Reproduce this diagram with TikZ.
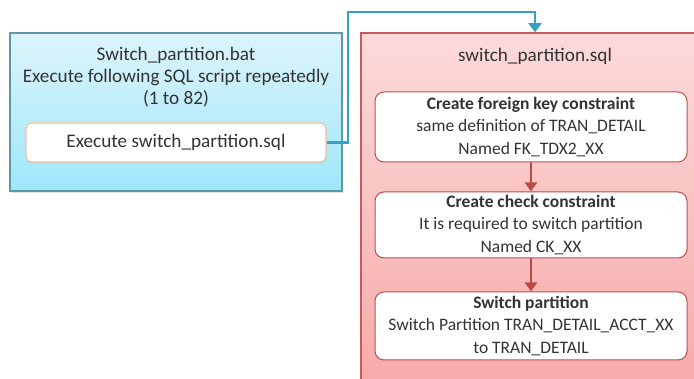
\documentclass[tikz,border=0pt]{standalone}
\usepackage{fontspec}
\setmainfont{Carlito}
\usetikzlibrary{shadows,arrows.meta}
\definecolor{txtgray}{HTML}{333333}
\definecolor{batedge}{HTML}{5E98A6}
\definecolor{battop}{HTML}{DDF4FB}
\definecolor{batbot}{HTML}{9EE7FA}
\definecolor{sqledge}{HTML}{C9595A}
\definecolor{sqltop}{HTML}{FCDADA}
\definecolor{sqlbot}{HTML}{F7A9A9}
\definecolor{stepedge}{HTML}{B9504F}
\definecolor{execedge}{HTML}{F0C49B}
\definecolor{linkblue}{HTML}{34A2C1}
\definecolor{flowred}{HTML}{BC4B47}
\tikzset{
  txt/.style={font=\fontsize{19.2}{22}\selectfont, text=txtgray, align=center, inner sep=0pt},
  bluebox/.style={draw=batedge, line width=1.6pt, top color=battop, bottom color=batbot,
    minimum width=332pt, minimum height=158pt, inner sep=0pt,
    drop shadow={shadow xshift=1pt, shadow yshift=-2pt, opacity=0.25}},
  execbox/.style={txt, draw=execedge, line width=1.2pt, fill=white, rounded corners=6pt,
    minimum width=300pt, minimum height=39pt,
    drop shadow={shadow xshift=1pt, shadow yshift=-1.5pt, opacity=0.15}},
  redbox/.style={draw=sqledge, line width=1.5pt, top color=sqltop, bottom color=sqlbot,
    minimum width=339pt, minimum height=357pt, inner sep=0pt},
  stepbox/.style={font=\fontsize{17.5}{22.5}\selectfont, text=txtgray, align=center, inner sep=0pt,
    draw=stepedge, line width=1pt, fill=white, rounded corners=9pt, minimum width=312pt},
  flow/.style={draw=flowred, line width=2.4pt, -{Triangle[width=12pt,length=9pt]}},
  link/.style={draw=linkblue, line width=2.8pt, -{Triangle[width=13pt,length=9pt]}}
}
\begin{document}
\begin{tikzpicture}[x=1pt,y=-1pt]
\useasboundingbox (0,0) rectangle (694,379);
\clip (0,0) rectangle (694,379);
% batch file container
\node[bluebox] (bat) at (176,112) {};
\node[txt] (battitle) at (176,77) {Switch\_partition.bat\\Execute following SQL script repeatedly\\(1 to 82)};
\node[execbox] (exec) at (176,142.5) {Execute switch\_partition.sql};
% SQL script container
\node[redbox] (sql) at (530.5,211.5) {};
\node[txt] (sqltitle) at (535,56) {switch\_partition.sql};
\node[stepbox, minimum height=70pt] (fk) at (531,127)
  {\textbf{Create foreign key constraint}\\same definition of TRAN\_DETAIL\\Named FK\_TDX2\_XX};
\node[stepbox, minimum height=66pt] (ck) at (531,225)
  {\textbf{Create check constraint}\\It is required to switch partition\\Named CK\_XX};
\node[stepbox, minimum height=68pt] (sw) at (531,326)
  {\textbf{Switch partition}\\Switch Partition TRAN\_DETAIL\_ACCT\_XX\\to TRAN\_DETAIL};
% steps inside the script
\draw[flow] (fk) -- (ck);
\draw[flow] (ck) -- (sw);
% call from the batch file into the script
\coordinate (bend) at (348,12);
\draw[link] (exec.east) -| (bend) -| (sqltitle |- sql.north);
\end{tikzpicture}
\end{document}
